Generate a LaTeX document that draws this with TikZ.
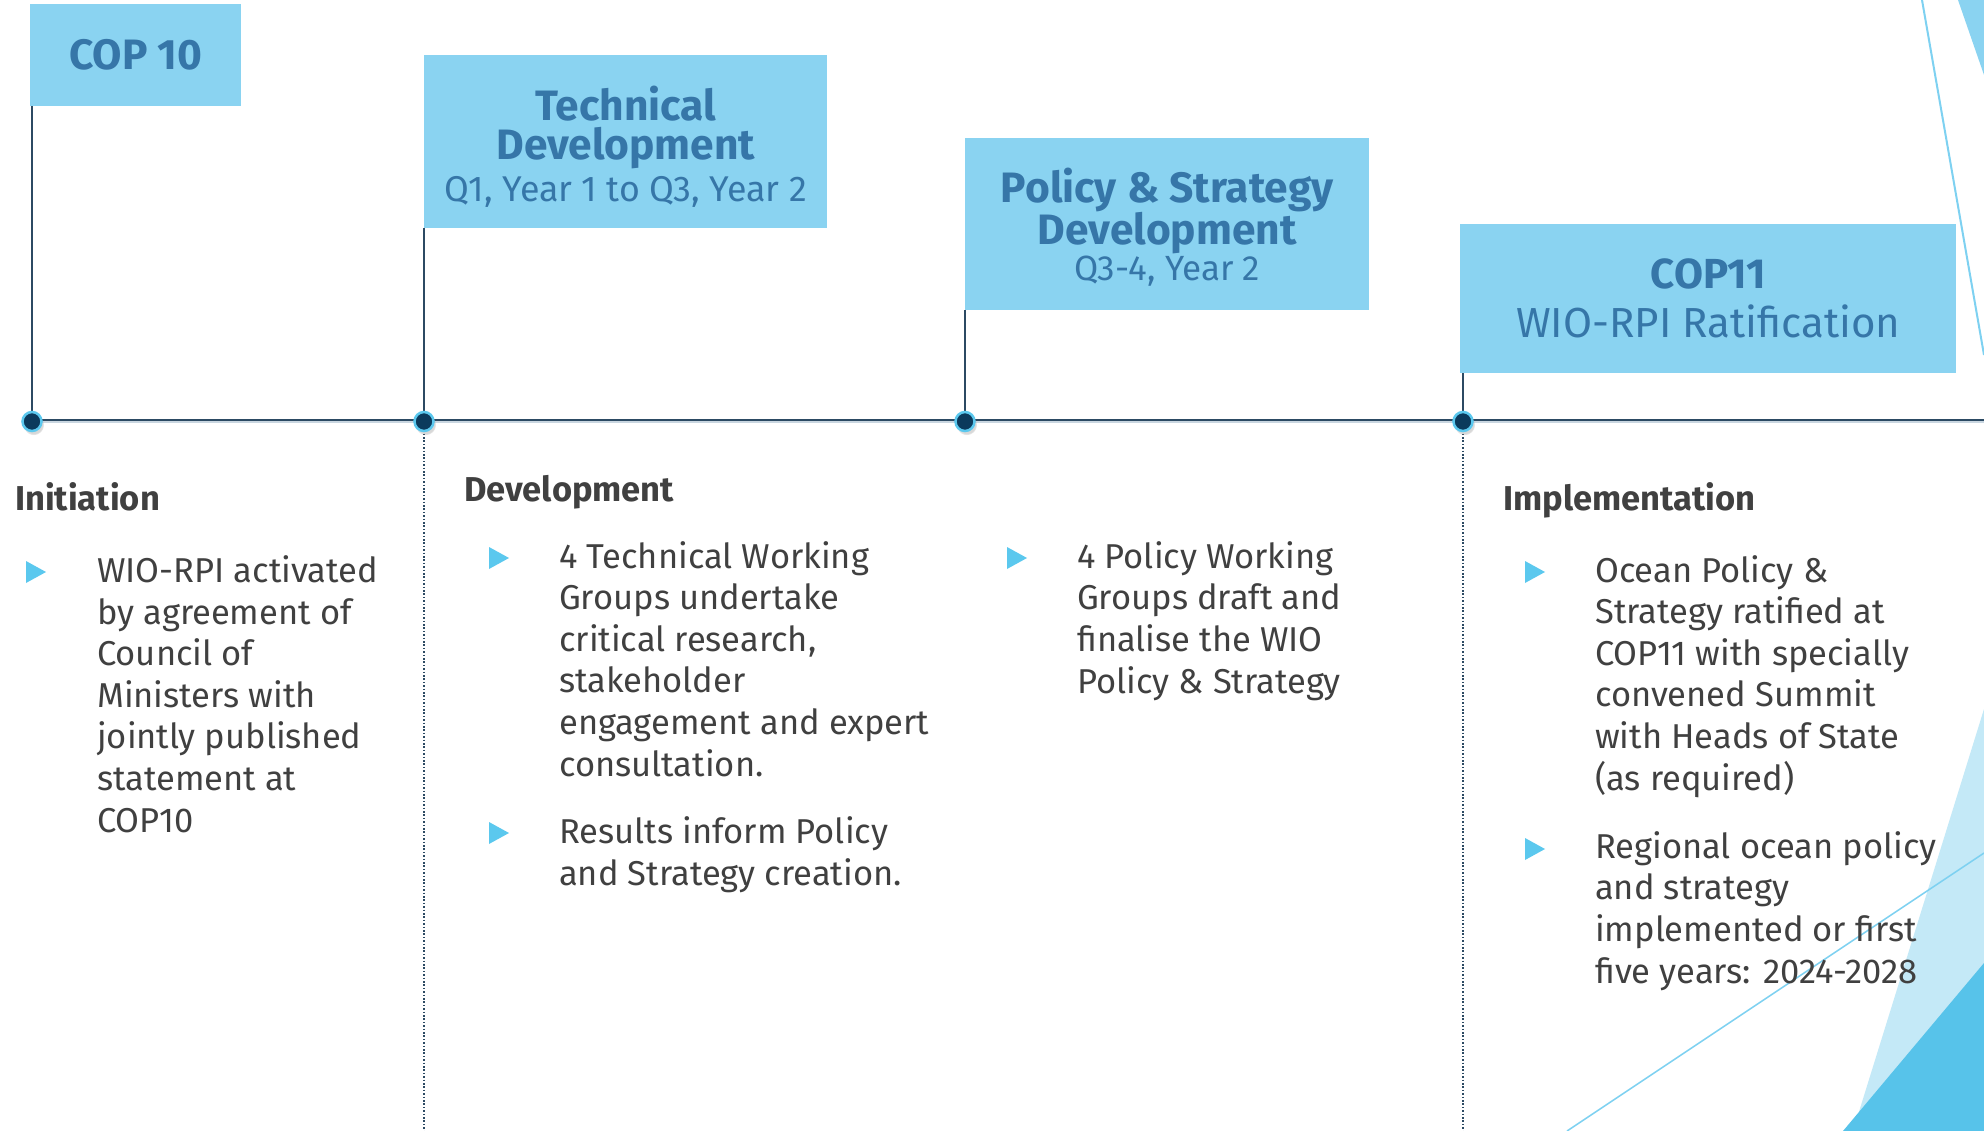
\documentclass[tikz,border=0pt]{standalone}
\usepackage{fontspec}
\setmainfont{Fira Sans}
\usepackage{xcolor}
\usetikzlibrary{positioning,shadows}
\definecolor{flagblue}{HTML}{8AD3F1}
\definecolor{flagtext}{HTML}{3676A8}
\definecolor{bodytext}{HTML}{404040}
\definecolor{bulletblue}{HTML}{5BC8EE}
\definecolor{axisline}{HTML}{2C4A63}
\definecolor{axisshade}{HTML}{C9D6E0}
\definecolor{dotfill}{HTML}{0B3A5C}
\definecolor{decopale}{HTML}{C4E9F7}
\definecolor{decomid}{HTML}{57C3EA}
\definecolor{decoline}{HTML}{7ED1F1}

\begin{document}
\begin{tikzpicture}[x=1pt,y=-1pt,
  flag/.style={rectangle,fill=flagblue,inner sep=0pt,anchor=north west},
  flagtitle/.style={text=flagtext,align=center,inner sep=0pt,font=\fontsize{42.5}{39}\selectfont},
  dot/.style={circle,draw=bulletblue,fill=dotfill,line width=2.5pt,minimum size=19pt,inner sep=0pt,circular drop shadow={shadow xshift=1.5pt,shadow yshift=-3pt,opacity=.3}},
  pole/.style={draw=axisline,line width=1.2pt},
  guide/.style={draw=axisline,line width=1.4pt,dash pattern=on 1.6pt off 1.8pt},
  head/.style={anchor=base west,text=bodytext,inner sep=0pt,font=\fontsize{34.5}{41.6}\selectfont\bfseries},
  item/.style={anchor=base west,text=bodytext,align=left,inner sep=0pt,font=\fontsize{34.5}{41.6}\selectfont},
  tribullet/.pic={\fill[bulletblue] (0,-11) -- (20,0) -- (0,11) -- cycle;}
]
\useasboundingbox[fill=white] (0,0) rectangle (1984,1131);

\fill[decopale] (1984,709) -- (1984,1131) -- (1853,1131) -- cycle;
\fill[decomid] (1984,963) -- (1984,1131) -- (1843,1131) -- cycle;
\draw[decoline,line width=1.5pt] (1567,1131) -- (1984,853);
\draw[decoline,line width=2pt] (1922,0) -- (1984,355);
\fill[flagblue] (1958,0) -- (1984,0) -- (1984,75) -- cycle;

\node[flag,minimum width=211pt,minimum height=102pt] (cop10) at (30,4) {};
\node[flagtitle] (cop10t) at (cop10.center) {\bfseries COP 10};
\node[flag,minimum width=403pt,minimum height=173pt] (techdev) at (424,55) {};
\node[flagtitle] (techdevt) at ([yshift=-5pt]techdev.center)
  {\bfseries Technical\\\bfseries Development\\[3pt]\fontsize{35.8}{39}\selectfont Q1, Year 1 to Q3, Year 2};
\node[flag,minimum width=404pt,minimum height=172pt] (policydev) at (965,138) {};
\node[flagtitle] (policydevt) at ([yshift=-3pt]policydev.center)
  {\bfseries Policy \& Strategy\\\bfseries Development\\[-3pt]\fontsize{35}{39}\selectfont Q3-4, Year 2};
\node[flag,minimum width=496pt,minimum height=149pt] (cop11) at (1460,224) {};
\node[flagtitle,font=\fontsize{42}{49}\selectfont] (cop11t) at (cop11.center)
  {\bfseries COP11\\WIO-RPI Ratification};

\coordinate (m1) at (32,420);
\coordinate (m2) at (424,420);
\coordinate (m3) at (965,420);
\coordinate (m4) at (1463,420);
\coordinate (axisend) at (1984,420);

\draw[axisshade,line width=1.5pt] ([yshift=-2pt]m1) -- ([yshift=-2pt]axisend);
\draw[axisline,line width=1.5pt] (m1) -- (axisend);
\draw[pole] (m1) -- (m1 |- cop10.south);
\draw[pole] (m2) -- (m2 |- techdev.south);
\draw[pole] (m3) -- (m3 |- policydev.south);
\draw[pole] (m4) -- (m4 |- cop11.south);
\draw[guide] (m2) -- (m2 |- 0,1131);
\draw[guide] (m4) -- (m4 |- 0,1131);

\node[dot] (d1) at ([yshift=-1.5pt]m1) {};
\node[dot] (d2) at ([yshift=-1.5pt]m2) {};
\node[dot] (d3) at ([yshift=-1.5pt]m3) {};
\node[dot] (d4) at ([yshift=-1.5pt]m4) {};

% multi-line items are placed at the baseline of their last line
\node[head] (initiation) at (15,510) {Initiation};
\pic at (26,572) {tribullet};
\node[item] (init1) at (97,832) {WIO-RPI activated\\by agreement of\\Council of\\Ministers with\\jointly published\\statement at\\COP10};

\node[head] (development) at (464,501) {Development};
\pic at (489,558) {tribullet};
\node[item] (dev1) at (559,776) {4 Technical Working\\Groups undertake\\critical research,\\stakeholder\\engagement and expert\\consultation.};
\pic at (489,833) {tribullet};
\node[item] (dev2) at (559,885) {Results inform Policy\\and Strategy creation.};

\pic at (1007,558) {tribullet};
\node[item] (pol1) at (1077,693) {4 Policy Working\\Groups draft and\\finalise the WIO\\Policy \& Strategy};

\node[head] (implementation) at (1503,510) {Implementation};
\pic at (1525,572) {tribullet};
\node[item] (imp1) at (1595,790) {Ocean Policy \&\\Strategy ratified at\\COP11 with specially\\convened Summit\\with Heads of State\\(as required)};
\pic at (1525,849) {tribullet};
\node[item] (imp2) at (1595,983) {Regional ocean policy\\and strategy\\implemented or first\\five years: 2024-2028};
\end{tikzpicture}
\end{document}
